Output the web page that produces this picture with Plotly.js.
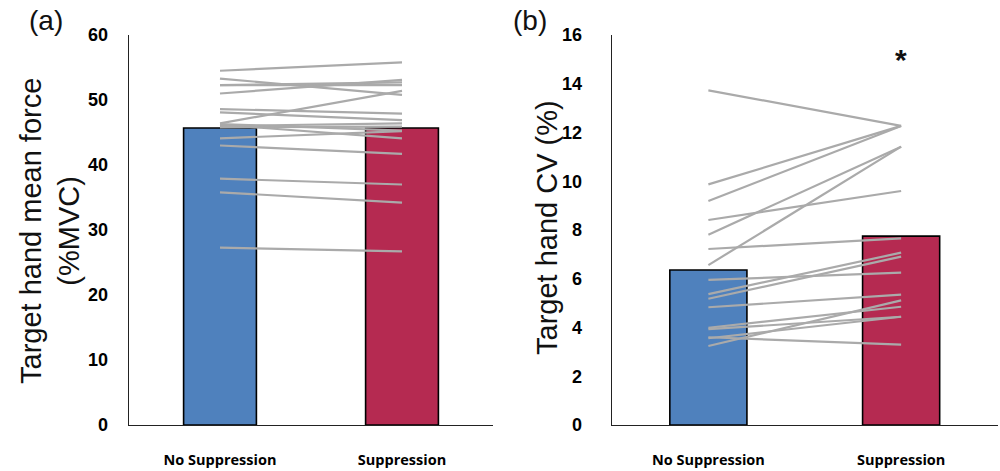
<!DOCTYPE html>
<html>
<head>
<meta charset="utf-8">
<script src="https://cdn.plot.ly/plotly-3.0.1.min.js"></script>
<style>html,body{margin:0;padding:0;background:#fff;}#chart{width:1000px;height:471px;}</style>
</head>
<body>
<div id="chart"></div>
<script>
// ---- data ----
var categories = ['No Suppression', 'Suppression'];

// Panel (a): target hand mean force (%MVC)
var forceMeans = [45.7, 45.7];
var forceNoSupp = [54.5, 53.3, 52.3, 52.3, 51.0, 48.6, 48.1, 46.4, 46.2, 46.0, 45.8, 46.3, 44.1, 43.0, 37.9, 35.8, 27.3];
var forceSupp   = [55.8, 50.8, 52.3, 52.7, 53.1, 47.9, 46.9, 51.4, 44.1, 46.4, 45.9, 45.3, 45.2, 41.7, 37.0, 34.2, 26.7];

// Panel (b): target hand CV (%)
var cvMeans = [6.36, 7.75];
var cvNoSupp = [13.73, 9.87, 9.19, 8.41, 7.81, 7.22, 6.56, 5.95, 5.37, 5.18, 4.83, 3.99, 3.93, 3.60, 3.56, 3.24];
var cvSupp   = [12.27, 12.27, 12.27, 9.60, 11.42, 7.66, 11.42, 6.25, 7.07, 6.91, 5.35, 4.85, 4.44, 3.30, 4.44, 5.11];

var forceTicks = [0, 10, 20, 30, 40, 50, 60];
var cvTicks = [0, 2, 4, 6, 8, 10, 12, 14, 16];

// ---- styles ----
var barColors = ['#4F81BD', '#B52A51'];
var lineColor = '#AAAAAA';

var traces = [];
traces.push({
  type: 'bar', x: categories, y: forceMeans, xaxis: 'x', yaxis: 'y', width: 0.4,
  marker: {color: barColors, line: {color: '#000', width: 1.6}}, hoverinfo: 'skip', showlegend: false
});
for (var i = 0; i < forceNoSupp.length; i++) {
  traces.push({type: 'scatter', mode: 'lines', x: categories, y: [forceNoSupp[i], forceSupp[i]],
    xaxis: 'x', yaxis: 'y', line: {color: lineColor, width: 2.2}, hoverinfo: 'skip', showlegend: false});
}
traces.push({
  type: 'bar', x: categories, y: cvMeans, xaxis: 'x2', yaxis: 'y2', width: 0.4,
  marker: {color: barColors, line: {color: '#000', width: 1.6}}, hoverinfo: 'skip', showlegend: false
});
for (var j = 0; j < cvNoSupp.length; j++) {
  traces.push({type: 'scatter', mode: 'lines', x: categories, y: [cvNoSupp[j], cvSupp[j]],
    xaxis: 'x2', yaxis: 'y2', line: {color: lineColor, width: 2.2}, hoverinfo: 'skip', showlegend: false});
}

var yTop = 1 - 35 / 471, yBot = 1 - 425 / 471;
var tickFontY = {family: 'Arial, "Liberation Sans", sans-serif', size: 18, color: '#000', weight: 'bold'};
var tickFontX = {family: '"Open Sans", sans-serif', size: 14.5, color: '#000', weight: 'bold'};

function xax(domain) {
  return {domain: domain, type: 'category', range: [-0.5, 1.5], showline: true, linecolor: '#222', linewidth: 1.4,
    ticks: 'outside', ticklen: 21, tickcolor: 'rgba(0,0,0,0)', tickfont: tickFontX, showgrid: false, zeroline: false, fixedrange: true};
}
function yax(domain, range, tv, tl, anchor) {
  return {domain: domain, range: range, tickvals: tv, ticktext: tv.map(String), anchor: anchor,
    showline: true, linecolor: '#222', linewidth: 1.4, ticks: 'outside', ticklen: tl, tickcolor: 'rgba(0,0,0,0)',
    tickfont: tickFontY, showgrid: false, zeroline: false, fixedrange: true};
}

var titleFont = {family: 'Arial, "Liberation Sans", sans-serif', size: 29, color: '#111'};

var layout = {
  width: 1000, height: 471, margin: {l: 0, r: 0, t: 0, b: 0}, paper_bgcolor: '#fff', plot_bgcolor: 'rgba(0,0,0,0)',
  showlegend: false,
  xaxis: xax([0.129, 0.493]),
  yaxis: yax([yBot, yTop], [0, 60], forceTicks, 16, 'x'),
  xaxis2: Object.assign(xax([0.612, 0.9975]), {anchor: 'y2'}),
  yaxis2: yax([yBot, yTop], [0, 16], cvTicks, 25, 'x2'),
  annotations: [
    {text: '(a)', xref: 'paper', yref: 'paper', x: 0.046, y: 1 - 21 / 471, xanchor: 'center', yanchor: 'middle',
      showarrow: false, font: {family: 'Arial, sans-serif', size: 28, color: '#111'}},
    {text: '(b)', xref: 'paper', yref: 'paper', x: 0.530, y: 1 - 21 / 471, xanchor: 'center', yanchor: 'middle',
      showarrow: false, font: {family: 'Arial, sans-serif', size: 28, color: '#111'}},
    {text: 'Target hand mean force<br>(%MVC)', xref: 'paper', yref: 'paper', x: 0.050, y: 1 - 231 / 471,
      xanchor: 'center', yanchor: 'middle', textangle: -90, showarrow: false, font: titleFont},
    {text: 'Target hand CV (%)', xref: 'paper', yref: 'paper', x: 0.547, y: 1 - 228 / 471,
      xanchor: 'center', yanchor: 'middle', textangle: -90, showarrow: false, font: titleFont},
    {text: '*', xref: 'x2', yref: 'y2', x: 'Suppression', y: 15.0, xanchor: 'center', yanchor: 'middle',
      showarrow: false, font: {family: 'Arial, sans-serif', size: 30, color: '#111', weight: 'bold'}}
  ]
};

Plotly.newPlot('chart', traces, layout, {staticPlot: true, displayModeBar: false});
</script>
</body>
</html>
